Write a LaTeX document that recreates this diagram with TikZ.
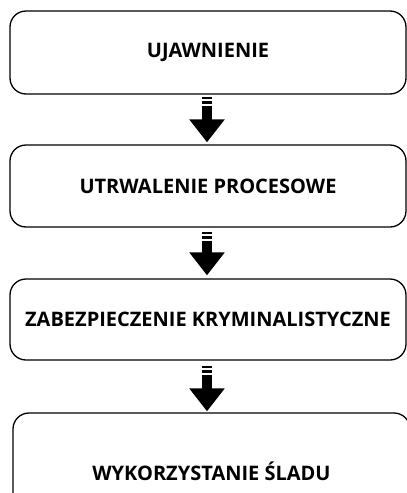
\documentclass[tikz,border=0pt]{standalone}
\usepackage{fontspec}
\setmainfont{Open Sans}
\usetikzlibrary{arrows.meta}

\begin{document}
\begin{tikzpicture}
  [x=1pt,y=1pt,
    etap/.style={draw, line width=1.3pt, rounded corners=16pt,
    font=\bfseries\fontsize{20}{24}\selectfont, align=center,
    inner sep=0pt},
    strzalka/.style={line width=10pt,
    dash pattern=on 2.5pt off 2pt on 2.5pt off 2pt on 200pt,
    -{Triangle[width=34pt,length=23pt]}}]
  \useasboundingbox (0,0) rectangle (407,-493);
  \clip (0,0) rectangle (407,-493);
  \node[etap, minimum width=396pt, minimum height=83pt] (ujawnienie) at (208,-52.5) {UJAWNIENIE};
  \node[etap, minimum width=396pt, minimum height=82pt] (utrwalenie) at (208,-186) {UTRWALENIE PROCESOWE};
  \node[etap, minimum width=396pt, minimum height=81pt] (zabezpieczenie) at (208,-319.5) {ZABEZPIECZENIE KRYMINALISTYCZNE};
  \node[etap, minimum width=397pt, minimum height=116pt] (wykorzystanie) at (211.5,-471) {WYKORZYSTANIE ŚLADU};
  % strzalki
  \draw[strzalka] ([yshift=-2pt]ujawnienie.south -| 207,0) -- ([yshift=2pt]utrwalenie.north -| 207,0);
  \draw[strzalka] ([yshift=-4pt]utrwalenie.south -| 207,0) -- ([yshift=3pt]zabezpieczenie.north -| 207,0);
  \draw[strzalka] ([yshift=-5pt]zabezpieczenie.south -| 207,0) -- ([yshift=1pt]wykorzystanie.north -| 207,0);
\end{tikzpicture}
\end{document}
